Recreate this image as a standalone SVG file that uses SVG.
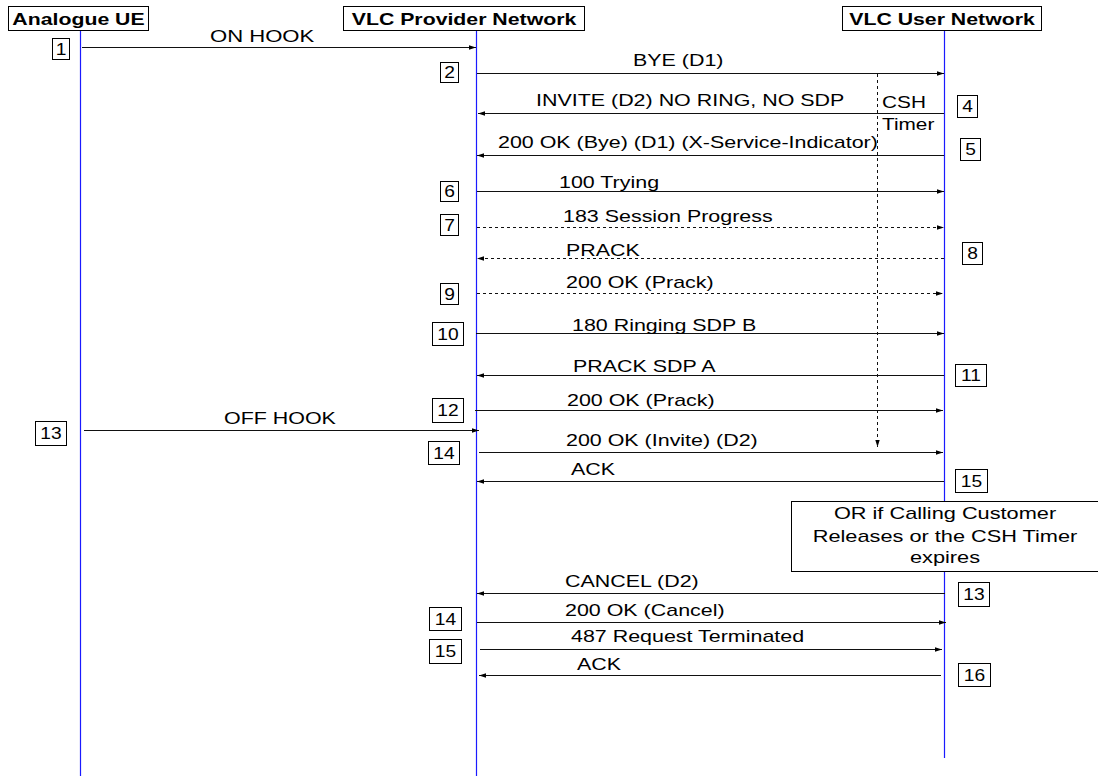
<svg xmlns="http://www.w3.org/2000/svg" width="1098" height="776" viewBox="0 0 1098 776">
<style>
text{font-family:"Liberation Sans",Arial,sans-serif;font-size:16px;fill:#000}
.hdr{font-weight:bold}
.box{fill:#fff;stroke:#000;stroke-width:1}
.life{stroke:#1a1aff;stroke-width:1.2;fill:none}
.msg{stroke:#111;stroke-width:1;fill:none}
.dash{stroke-dasharray:3,3}
.num{font-size:16px}
.mid{text-anchor:middle}
</style>
<defs>
<marker id="ah" markerUnits="userSpaceOnUse" markerWidth="8" markerHeight="6" refX="7" refY="3" orient="auto">
<path d="M0,0.8 L7,3 L0,5.2 Z" fill="#000"/>
</marker>
</defs>
<rect width="1098" height="776" fill="#fff"/>

<g id="node-analogue-ue">
<line class="life" x1="80.5" y1="30" x2="80.5" y2="776"/>
<rect class="box" x="8.5" y="6.5" width="140" height="24"/>
<text class="hdr mid" transform="translate(78.5,25) scale(1.33,1)">Analogue UE</text>
</g>
<g id="node-vlc-provider">
<line class="life" x1="476.5" y1="30" x2="476.5" y2="776"/>
<rect class="box" x="343.5" y="6.5" width="241" height="24"/>
<text class="hdr mid" transform="translate(464,25) scale(1.33,1)">VLC Provider Network</text>
</g>
<g id="node-vlc-user">
<line class="life" x1="944.5" y1="30" x2="944.5" y2="758"/>
<rect class="box" x="842.5" y="6.5" width="199" height="24"/>
<text class="hdr mid" transform="translate(942,25) scale(1.33,1)">VLC User Network</text>
</g>

<g id="connectors">
<line class="msg" x1="82" y1="47.5" x2="476" y2="47.5" marker-end="url(#ah)"/>
<line class="msg" x1="477" y1="73.5" x2="944" y2="73.5" marker-end="url(#ah)"/>
<line class="msg" x1="944" y1="113.5" x2="478" y2="113.5" marker-end="url(#ah)"/>
<line class="msg" x1="944" y1="155.5" x2="477" y2="155.5" marker-end="url(#ah)"/>
<line class="msg" x1="477" y1="191.5" x2="944" y2="191.5" marker-end="url(#ah)"/>
<line class="msg dash" x1="477" y1="227.5" x2="944" y2="227.5" marker-end="url(#ah)"/>
<line class="msg dash" x1="944" y1="258.5" x2="477" y2="258.5" marker-end="url(#ah)"/>
<line class="msg dash" x1="477" y1="293.5" x2="943" y2="293.5" marker-end="url(#ah)"/>
<line class="msg" x1="476" y1="333.5" x2="944" y2="333.5" marker-end="url(#ah)"/>
<line class="msg" x1="944" y1="375.5" x2="477" y2="375.5" marker-end="url(#ah)"/>
<line class="msg" x1="475" y1="410.5" x2="943" y2="410.5" marker-end="url(#ah)"/>
<line class="msg" x1="84" y1="430.5" x2="479" y2="430.5" marker-end="url(#ah)"/>
<line class="msg" x1="479" y1="452.5" x2="943" y2="452.5" marker-end="url(#ah)"/>
<line class="msg" x1="944" y1="481.5" x2="477" y2="481.5" marker-end="url(#ah)"/>
<line class="msg" x1="945" y1="593.5" x2="477" y2="593.5" marker-end="url(#ah)"/>
<line class="msg" x1="477" y1="622.5" x2="946" y2="622.5" marker-end="url(#ah)"/>
<line class="msg" x1="480" y1="649.5" x2="942" y2="649.5" marker-end="url(#ah)"/>
<line class="msg" x1="941" y1="675.5" x2="479" y2="675.5" marker-end="url(#ah)"/>
<line class="msg dash" x1="877.5" y1="74" x2="877.5" y2="447" marker-end="url(#ah)"/>
</g>

<g id="labels">
<text transform="translate(210,42) scale(1.38,1)">ON HOOK</text>
<text transform="translate(633,66) scale(1.34,1)">BYE (D1)</text>
<text transform="translate(536,106) scale(1.34,1)">INVITE (D2) NO RING, NO SDP</text>
<text transform="translate(498,148) scale(1.34,1)">200 OK (Bye) (D1) (X-Service-Indicator)</text>
<text transform="translate(882,108) scale(1.3,1)">CSH</text>
<text transform="translate(882,130) scale(1.3,1)">Timer</text>
<text transform="translate(559,188) scale(1.34,1)">100 Trying</text>
<text transform="translate(563,222) scale(1.34,1)">183 Session Progress</text>
<text transform="translate(566,256) scale(1.34,1)">PRACK</text>
<text transform="translate(566,288) scale(1.34,1)">200 OK (Prack)</text>
<text transform="translate(572,331) scale(1.34,1)">180 Ringing SDP B</text>
<text transform="translate(573,372) scale(1.34,1)">PRACK SDP A</text>
<text transform="translate(567,406) scale(1.34,1)">200 OK (Prack)</text>
<text transform="translate(224,424) scale(1.34,1)">OFF HOOK</text>
<text transform="translate(566,446) scale(1.34,1)">200 OK (Invite) (D2)</text>
<text transform="translate(571,475) scale(1.34,1)">ACK</text>
<text transform="translate(565,587) scale(1.34,1)">CANCEL (D2)</text>
<text transform="translate(565,616) scale(1.34,1)">200 OK (Cancel)</text>
<text transform="translate(571,642) scale(1.34,1)">487 Request Terminated</text>
<text transform="translate(577,670) scale(1.34,1)">ACK</text>
</g>

<g id="node-note">
<rect class="box" x="791.5" y="501.5" width="320" height="70"/>
<text class="mid" transform="translate(945,519) scale(1.36,1)">OR if Calling Customer</text>
<text class="mid" transform="translate(945,542) scale(1.36,1)">Releases or the CSH Timer</text>
<text class="mid" transform="translate(945,563) scale(1.36,1)">expires</text>
</g>

<g id="steps">
<rect class="box" x="52.5" y="38.5" width="17" height="21"/><text class="mid" transform="translate(61,55) scale(1.2,1)">1</text>
<rect class="box" x="440.5" y="62.5" width="18" height="20"/><text class="mid" transform="translate(449.5,78) scale(1.2,1)">2</text>
<rect class="box" x="957.5" y="95.5" width="20" height="22"/><text class="mid" transform="translate(967.5,112) scale(1.2,1)">4</text>
<rect class="box" x="960.5" y="138.5" width="20" height="22"/><text class="mid" transform="translate(970.5,155) scale(1.2,1)">5</text>
<rect class="box" x="440.5" y="181.5" width="18" height="20"/><text class="mid" transform="translate(449.5,197) scale(1.2,1)">6</text>
<rect class="box" x="440.5" y="214.5" width="18" height="21"/><text class="mid" transform="translate(449.5,231) scale(1.2,1)">7</text>
<rect class="box" x="962.5" y="242.5" width="20" height="22"/><text class="mid" transform="translate(972.5,259) scale(1.2,1)">8</text>
<rect class="box" x="440.5" y="283.5" width="18" height="21"/><text class="mid" transform="translate(449.5,300) scale(1.2,1)">9</text>
<rect class="box" x="432.5" y="322.5" width="31" height="23"/><text class="mid" transform="translate(448,340) scale(1.2,1)">10</text>
<rect class="box" x="955.5" y="364.5" width="31" height="22"/><text class="mid" transform="translate(971,381) scale(1.2,1)">11</text>
<rect class="box" x="432.5" y="398.5" width="31" height="24"/><text class="mid" transform="translate(448,416) scale(1.2,1)">12</text>
<rect class="box" x="35.5" y="421.5" width="31" height="24"/><text class="mid" transform="translate(51,439) scale(1.2,1)">13</text>
<rect class="box" x="428.5" y="441.5" width="31" height="23"/><text class="mid" transform="translate(444,459) scale(1.2,1)">14</text>
<rect class="box" x="955.5" y="469.5" width="32" height="23"/><text class="mid" transform="translate(971.5,487) scale(1.2,1)">15</text>
<rect class="box" x="958.5" y="582.5" width="31" height="24"/><text class="mid" transform="translate(974,600) scale(1.2,1)">13</text>
<rect class="box" x="429.5" y="607.5" width="32" height="23"/><text class="mid" transform="translate(445.5,625) scale(1.2,1)">14</text>
<rect class="box" x="429.5" y="639.5" width="32" height="24"/><text class="mid" transform="translate(445.5,657) scale(1.2,1)">15</text>
<rect class="box" x="958.5" y="663.5" width="32" height="23"/><text class="mid" transform="translate(974.5,681) scale(1.2,1)">16</text>
</g>
</svg>
